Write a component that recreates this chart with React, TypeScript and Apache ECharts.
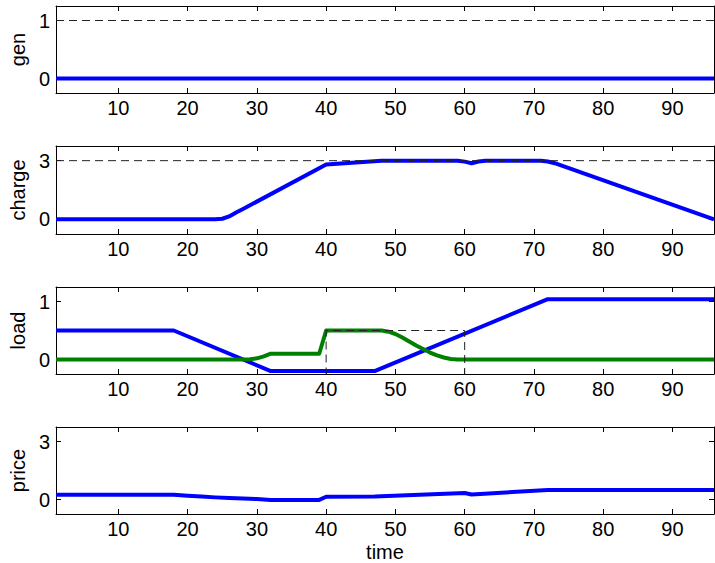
import React, { useEffect, useRef } from "react";
import * as echarts from "echarts";

// ---- data ----
const xTicks = [10, 20, 30, 40, 50, 60, 70, 80, 90];
const timeMin = 1;
const timeMax = 96;

const genTime = [1, 96];
const genValues = [0, 0];
const genMaxTime = [1, 96];
const genMaxValues = [1, 1];

const chargeTime = [1, 24, 25, 26, 27, 28, 40, 48, 59, 60, 61, 62, 63, 70, 71, 72, 73, 96];
const chargeValues = [0, 0, 0.03, 0.15, 0.35, 0.53, 2.8, 3.0, 3.0, 2.95, 2.87, 2.96, 3.0, 3.0, 3.0, 2.96, 2.87, 0];
const chargeMaxTime = [1, 96];
const chargeMaxValues = [3, 3];

const loadBlueTime = [1, 18, 32, 47, 72, 96];
const loadBlueValues = [0.5, 0.5, -0.2, -0.2, 1.04, 1.04];
const loadGreenTime = [1, 28, 29, 30, 31, 32, 39, 40, 48, 49, 50, 51, 52, 53, 54, 55, 56, 57, 58, 59, 96];
const loadGreenValues = [0, 0, 0.005, 0.02, 0.055, 0.1, 0.1, 0.5, 0.5, 0.48, 0.44, 0.38, 0.31, 0.24, 0.18, 0.12, 0.07, 0.035, 0.01, 0, 0];
const loadMaxTime = [40, 40, 60, 60];
const loadMaxValues = [-0.5, 0.5, 0.5, -0.5];

const priceTime = [1, 18, 20, 22, 24, 26, 28, 30, 32, 39, 40, 47, 60, 61, 72, 96];
const priceValues = [0.24, 0.24, 0.2, 0.15, 0.11, 0.08, 0.05, 0.02, -0.02, -0.02, 0.14, 0.15, 0.34, 0.26, 0.49, 0.49];

const panelNames = ["gen", "charge", "load", "price"];
const yRanges: [number, number][] = [[-0.25, 1.25], [-0.75, 3.75], [-0.25, 1.25], [-0.75, 3.75]];
const yTicks = [[0, 1], [0, 3], [0, 1], [0, 3]];

const zip = (xs: number[], ys: number[]) => xs.map((x, i) => [x, ys[i]]);

const FONT = "Liberation Sans";

export default function App() {
  const ref = useRef<HTMLDivElement>(null);
  useEffect(() => {
    if (!ref.current) return;
    const chart = echarts.init(ref.current, undefined, { renderer: "svg" });
    const tops = [6, 146, 287, 427];
    const heights = [87, 88, 87, 88];
    const grids = tops.map((t, i) => ({ left: 53, right: 1, top: t, height: heights[i], show: false }));
    const lineColor = "#000";
    const xAxes: any[] = [];
    const yAxes: any[] = [];
    grids.forEach((_, i) => {
      xAxes.push({
        type: "value", gridIndex: i, min: timeMin, max: timeMax, position: "bottom",
        axisLine: { show: true, onZero: false, lineStyle: { color: lineColor, width: 1 } },
        axisTick: { show: true, inside: true, length: 5, customValues: xTicks, lineStyle: { color: lineColor } },
        axisLabel: { show: true, customValues: xTicks, fontSize: 20, fontFamily: FONT, color: "#000", margin: 5 },
        splitLine: { show: false },
        name: i === 3 ? "time" : "",
        nameLocation: "middle",
        nameGap: 28,
        nameTextStyle: { fontSize: 20, fontFamily: FONT, color: "#000" },
      });
      xAxes.push({
        type: "value", gridIndex: i, min: timeMin, max: timeMax, position: "top",
        axisLine: { show: true, onZero: false, lineStyle: { color: lineColor, width: 1 } },
        axisTick: { show: true, inside: true, length: 5, customValues: xTicks, lineStyle: { color: lineColor } },
        axisLabel: { show: false },
        splitLine: { show: false },
      });
      yAxes.push({
        type: "value", gridIndex: i, min: yRanges[i][0], max: yRanges[i][1], position: "left",
        axisLine: { show: true, onZero: false, lineStyle: { color: lineColor, width: 1 } },
        axisTick: { show: true, inside: true, length: 5, customValues: yTicks[i], lineStyle: { color: lineColor } },
        axisLabel: { show: true, customValues: yTicks[i], fontSize: 20, fontFamily: FONT, color: "#000", margin: 6 },
        splitLine: { show: false },
        name: panelNames[i],
        nameLocation: "middle",
        nameGap: 27,
        nameTextStyle: { fontSize: 20, fontFamily: FONT, color: "#000" },
      });
      yAxes.push({
        type: "value", gridIndex: i, min: yRanges[i][0], max: yRanges[i][1], position: "right",
        axisLine: { show: true, onZero: false, lineStyle: { color: lineColor, width: 1 } },
        axisTick: { show: true, inside: true, length: 5, customValues: yTicks[i], lineStyle: { color: lineColor } },
        axisLabel: { show: false },
        splitLine: { show: false },
      });
    });
    const solid = (p: number, data: number[][], color: string, z = 2) => ({
      type: "line", xAxisIndex: p * 2, yAxisIndex: p * 2, data, showSymbol: false, symbol: "none",
      lineStyle: { color, width: 4, join: "round" }, z, silent: true,
    });
    const dashed = (p: number, data: number[][]) => ({
      type: "line", xAxisIndex: p * 2, yAxisIndex: p * 2, data, showSymbol: false, symbol: "none",
      lineStyle: { color: "#222", width: 1, type: [8, 5] }, z: 5, silent: true,
    });
    const option: any = {
      animation: false,
      grid: grids,
      xAxis: xAxes,
      yAxis: yAxes,
      series: [
        solid(0, zip(genTime, genValues), "#0000ff"),
        dashed(0, zip(genMaxTime, genMaxValues)),
        solid(1, zip(chargeTime, chargeValues), "#0000ff"),
        dashed(1, zip(chargeMaxTime, chargeMaxValues)),
        solid(2, zip(loadBlueTime, loadBlueValues), "#0000ff"),
        solid(2, zip(loadGreenTime, loadGreenValues), "#008000", 3),
        dashed(2, zip(loadMaxTime, loadMaxValues)),
        solid(3, zip(priceTime, priceValues), "#0000ff"),
      ],
    };
    chart.setOption(option);
    return () => chart.dispose();
  }, []);
  return (
    <div
      ref={ref}
      style={{ position: "fixed", left: 0, top: 0, width: 715, height: 563, background: "#fff" }}
    />
  );
}
